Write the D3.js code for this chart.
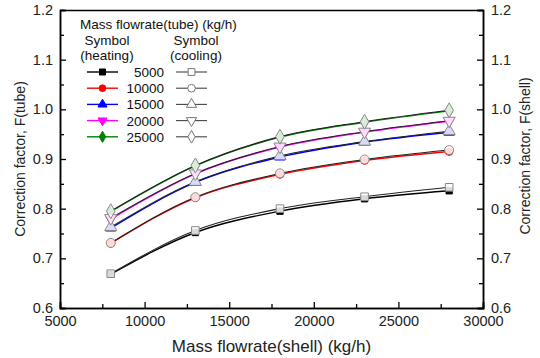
<!DOCTYPE html>
<html>
<head>
<meta charset="utf-8">
<script src="https://cdn.jsdelivr.net/npm/d3@7"></script>
<style>
  html, body { margin: 0; padding: 0; background: #fff; }
  text { font-family: "Liberation Sans", Arial, sans-serif; }
</style>
</head>
<body>
<svg id="chart" width="540" height="358"></svg>
<script>
// Data
const shellFlow = [8000, 13000, 18000, 23000, 28000]
const tubeFlow = ["5000", "10000", "15000", "20000", "25000"]
const heating5000 = [0.668, 0.752, 0.795, 0.820, 0.836]
const heating10000 = [0.730, 0.822, 0.869, 0.897, 0.915]
const heating15000 = [0.761, 0.853, 0.904, 0.934, 0.954]
const heating20000 = [0.779, 0.870, 0.924, 0.954, 0.976]
const heating25000 = [0.794, 0.886, 0.944, 0.974, 0.997]
const cooling5000 = [0.669, 0.756, 0.800, 0.824, 0.843]
const cooling10000 = [0.731, 0.823, 0.871, 0.899, 0.918]
const cooling15000 = [0.763, 0.854, 0.906, 0.935, 0.956]
const cooling20000 = [0.781, 0.871, 0.925, 0.955, 0.977]
const cooling25000 = [0.795, 0.887, 0.945, 0.975, 0.998]
const xTicks = [5000, 10000, 15000, 20000, 25000, 30000]
const yTicks = [0.6, 0.7, 0.8, 0.9, 1.0, 1.1, 1.2]

const heating = [heating5000, heating10000, heating15000, heating20000, heating25000]
const cooling = [cooling5000, cooling10000, cooling15000, cooling20000, cooling25000]
const colors = ["#000000", "#ff0000", "#0000ff", "#ff00ff", "#008000"]
const shapes = [d3.symbolSquare, d3.symbolCircle, d3.symbolTriangle, "tri-down", d3.symbolDiamond]
const sizes = [40, 46, 46, 46, 46]

// Layout
const margin = { top: 10, right: 57, bottom: 50, left: 60 }
const width = 540, height = 358
const svg = d3.select("#chart")
const x = d3.scaleLinear().domain([5000, 30000]).range([margin.left, width - margin.right])
const y = d3.scaleLinear().domain([0.6, 1.2]).range([height - margin.bottom, margin.top])

function symbolPath(i, size) {
  if (shapes[i] === "tri-down") {
    return d3.symbol().type(d3.symbolTriangle).size(size)()
  }
  return d3.symbol().type(shapes[i]).size(size)()
}
function symbolTransform(i, px, py) {
  return shapes[i] === "tri-down" ? `translate(${px},${py}) rotate(180)` : `translate(${px},${py})`
}

// Axes
function styleAxis(g) {
  g.select(".domain").attr("stroke", "#000").attr("stroke-width", 1.5)
  g.selectAll(".tick line").attr("stroke", "#000").attr("stroke-width", 1.3)
  g.selectAll(".tick text").attr("fill", "#222").style("font-size", "14.5px")
}
const xMinor = d3.range(7500, 30000, 5000)
const yMinor = d3.range(0.65, 1.2, 0.1)

svg.append("g")
  .attr("transform", `translate(0,${y(0.6)})`)
  .call(d3.axisBottom(x).tickValues(xTicks).tickSize(-6).tickPadding(8).tickFormat(d3.format("d")))
  .call(styleAxis)
svg.append("g")
  .attr("transform", `translate(0,${y(0.6)})`)
  .call(d3.axisBottom(x).tickValues(xMinor).tickSize(-4).tickFormat(""))
  .call(styleAxis)
svg.append("g")
  .attr("transform", `translate(0,${y(1.2)})`)
  .call(d3.axisTop(x).tickValues([]).tickSizeOuter(0))
  .call(styleAxis)

svg.append("g")
  .attr("transform", `translate(${x(5000)},0)`)
  .call(d3.axisLeft(y).tickValues(yTicks).tickSize(-6).tickPadding(7).tickFormat(d3.format(".1f")))
  .call(styleAxis)
svg.append("g")
  .attr("transform", `translate(${x(5000)},0)`)
  .call(d3.axisLeft(y).tickValues(yMinor).tickSize(-4).tickFormat(""))
  .call(styleAxis)
svg.append("g")
  .attr("transform", `translate(${x(30000)},0)`)
  .call(d3.axisRight(y).tickValues(yTicks).tickSize(-6).tickPadding(8).tickFormat(d3.format(".1f")))
  .call(styleAxis)
svg.append("g")
  .attr("transform", `translate(${x(30000)},0)`)
  .call(d3.axisRight(y).tickValues(yMinor).tickSize(-4).tickFormat(""))
  .call(styleAxis)

// Axis titles
svg.append("text")
  .attr("x", (x(5000) + x(30000)) / 2)
  .attr("y", 352)
  .attr("text-anchor", "middle")
  .style("font-size", "17px")
  .attr("fill", "#222")
  .text("Mass flowrate(shell) (kg/h)")
svg.append("text")
  .attr("transform", `translate(25,159) rotate(-90)`)
  .attr("text-anchor", "middle")
  .style("font-size", "14px")
  .attr("fill", "#222")
  .text("Correction factor, F(tube)")
svg.append("text")
  .attr("transform", `translate(530,156) rotate(-90)`)
  .attr("text-anchor", "middle")
  .style("font-size", "14px")
  .attr("fill", "#222")
  .text("Correction factor, F(shell)")

// Lines
const line = d3.line()
  .x((d, i) => x(shellFlow[i]))
  .y(d => y(d))
  .curve(d3.curveMonotoneX)

const plot = svg.append("g")
plot.selectAll("path.heat")
  .data(heating)
  .join("path")
  .attr("class", "heat")
  .attr("fill", "none")
  .attr("stroke", (d, i) => colors[i])
  .attr("stroke-width", 1.4)
  .attr("d", line)
plot.selectAll("path.cool")
  .data(cooling)
  .join("path")
  .attr("class", "cool")
  .attr("fill", "none")
  .attr("stroke", "#222")
  .attr("stroke-width", 1.1)
  .attr("d", line)

// Markers: heating (filled), cooling (open) on top
heating.forEach((series, i) => {
  plot.append("g").selectAll("path")
    .data(series)
    .join("path")
    .attr("d", symbolPath(i, sizes[i]))
    .attr("transform", (d, j) => symbolTransform(i, x(shellFlow[j]), y(d)))
    .attr("fill", colors[i])
    .attr("stroke", colors[i])
})
cooling.forEach((series, i) => {
  plot.append("g").selectAll("path")
    .data(series)
    .join("path")
    .attr("d", symbolPath(i, sizes[i] + 18))
    .attr("transform", (d, j) => symbolTransform(i, x(shellFlow[j]), y(d)))
    .attr("fill", "#fff")
    .attr("fill-opacity", 0.85)
    .attr("stroke", "#888")
    .attr("stroke-width", 1)
})

// Legend
const legend = svg.append("g").style("font-size", "13.5px").attr("fill", "#111")
legend.append("text").attr("x", 80).attr("y", 29).text("Mass flowrate(tube) (kg/h)")
legend.append("text").attr("x", 107).attr("y", 45).attr("text-anchor", "middle").text("Symbol")
legend.append("text").attr("x", 107).attr("y", 60).attr("text-anchor", "middle").text("(heating)")
legend.append("text").attr("x", 196).attr("y", 45).attr("text-anchor", "middle").text("Symbol")
legend.append("text").attr("x", 196).attr("y", 60).attr("text-anchor", "middle").text("(cooling)")

tubeFlow.forEach((name, i) => {
  const ly = 72 + i * 16.2
  const row = legend.append("g")
  row.append("line").attr("x1", 87).attr("x2", 118).attr("y1", ly).attr("y2", ly)
    .attr("stroke", colors[i]).attr("stroke-width", 1.4)
  row.append("path").attr("d", symbolPath(i, 36)).attr("transform", symbolTransform(i, 102.5, ly))
    .attr("fill", colors[i]).attr("stroke", colors[i])
  row.append("text").attr("x", 164).attr("y", ly + 5).attr("text-anchor", "end").text(name)
  row.append("line").attr("x1", 176).attr("x2", 207).attr("y1", ly).attr("y2", ly)
    .attr("stroke", "#444").attr("stroke-width", 1.1)
  row.append("path").attr("d", symbolPath(i, 46)).attr("transform", symbolTransform(i, 191.5, ly))
    .attr("fill", "#fff").attr("stroke", "#777")
})
</script>
</body>
</html>
